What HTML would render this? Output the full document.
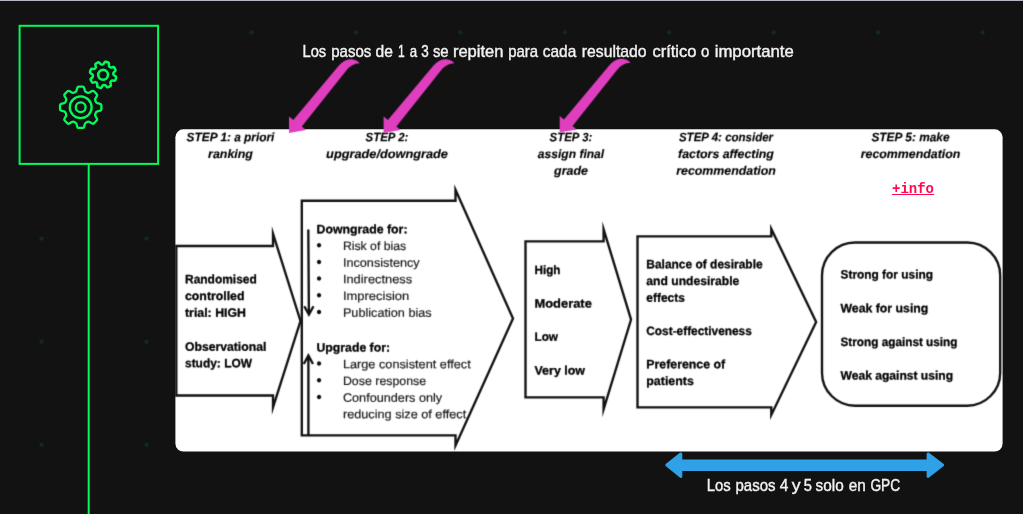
<!DOCTYPE html>
<html lang="es">
<head>
<meta charset="utf-8">
<title>GRADE</title>
<style>
html,body{margin:0;padding:0;background:#121212;}
body{width:1023px;height:514px;overflow:hidden;position:relative;font-family:"Liberation Sans",sans-serif;}
.topline{position:absolute;left:0;top:0;width:1023px;height:1px;background:#b9b5c6;}
.dots{position:absolute;left:0;top:0;}
.dots circle{fill:#12301a;opacity:.85}
.iconbox{fill:#121212;stroke:#00fb5a;stroke-width:2;}
.timeline{fill:#00fb5a;}
.panel{fill:#fff;}
svg.layer{position:absolute;left:0;top:0;overflow:visible;will-change:transform;}
.gear{fill:none;stroke:#00fb5a;stroke-width:2.3;stroke-linejoin:round;stroke-linecap:round;}
.shapes{fill:none;stroke:#121212;stroke-width:2.35;stroke-linejoin:miter;stroke-miterlimit:10;}
text{font-family:"Liberation Sans",sans-serif;}
.bi{font-weight:bold;font-style:italic;font-size:12.2px;fill:#000;stroke:#000;stroke-width:0.15px;}
.b{font-weight:bold;font-size:12.1px;fill:#000;stroke:#000;stroke-width:0.28px;}
.r{font-size:12.1px;fill:#1c1c1c;stroke:#1c1c1c;stroke-width:0.2px;}
.bul{font-size:16px;fill:#111;}
.cap{font-size:16.2px;fill:#f2f2f2;stroke:#f2f2f2;stroke-width:0.4px;}
.info{position:absolute;left:892px;top:181px;width:42px;height:17px;line-height:17px;font-family:"Liberation Mono",monospace;font-weight:bold;font-size:14px;color:#ff0a50;text-decoration:underline;text-underline-offset:0.6px;text-decoration-thickness:1px;white-space:nowrap;}
a{cursor:pointer;}
</style>
</head>
<body>
<div class="topline"></div>
<svg class="dots" width="1023" height="514" viewBox="0 0 1023 514"><circle cx="41.5" cy="238.6" r="2.2"/><circle cx="41.5" cy="341.7" r="2.2"/><circle cx="41.5" cy="444.8" r="2.2"/><circle cx="146.5" cy="238.6" r="2.2"/><circle cx="146.5" cy="341.7" r="2.2"/><circle cx="146.5" cy="444.8" r="2.2"/><circle cx="251.5" cy="32.4" r="2.2"/><circle cx="355.9" cy="32.4" r="2.2"/><circle cx="460.4" cy="32.4" r="2.2"/><circle cx="564.8" cy="32.4" r="2.2"/><circle cx="669.2" cy="32.4" r="2.2"/><circle cx="773.7" cy="32.4" r="2.2"/><circle cx="878.1" cy="32.4" r="2.2"/><circle cx="982.5" cy="32.4" r="2.2"/></svg>
<svg class="layer" width="1023" height="514" viewBox="0 0 1023 514">
<rect class="timeline" x="87.7" y="164" width="2" height="352"/>
<rect class="iconbox" x="19.6" y="25.8" width="138.5" height="138.1"/>
<rect class="panel" x="175.4" y="129.3" width="827.2" height="322.3" rx="8" ry="8"/>
<defs><filter id="soft" x="170" y="125" width="840" height="330" filterUnits="userSpaceOnUse" color-interpolation-filters="sRGB"><feConvolveMatrix order="3" kernelMatrix="0 1 0 1 4 1 0 1 0" divisor="8" edgeMode="duplicate" preserveAlpha="false"/></filter><filter id="soft2" x="280" y="52" width="360" height="90" filterUnits="userSpaceOnUse" color-interpolation-filters="sRGB"><feConvolveMatrix order="3" kernelMatrix="0 1 0 1 4 1 0 1 0" divisor="8" edgeMode="duplicate" preserveAlpha="false"/></filter></defs>
<g class="gear">
<path d="M95.85 101.82 L95.85 101.82 Q96.27 102.83 97.33 103.12 L100.31 103.92 Q101.37 104.21 101.37 105.31 L101.37 109.29 Q101.37 110.39 100.31 110.68 L97.33 111.48 Q96.27 111.77 95.85 112.78 L95.29 114.14 Q94.87 115.15 95.42 116.11 L96.95 118.78 Q97.50 119.73 96.72 120.51 L93.91 123.32 Q93.13 124.10 92.18 123.55 L89.51 122.02 Q88.55 121.47 87.54 121.89 L86.18 122.45 Q85.17 122.87 84.88 123.93 L84.08 126.91 Q83.79 127.97 82.69 127.97 L78.71 127.97 Q77.61 127.97 77.32 126.91 L76.52 123.93 Q76.23 122.87 75.22 122.45 L73.86 121.89 Q72.85 121.47 71.89 122.02 L69.22 123.55 Q68.27 124.10 67.49 123.32 L64.68 120.51 Q63.90 119.73 64.45 118.78 L65.98 116.11 Q66.53 115.15 66.11 114.14 L65.55 112.78 Q65.13 111.77 64.07 111.48 L61.09 110.68 Q60.03 110.39 60.03 109.29 L60.03 105.31 Q60.03 104.21 61.09 103.92 L64.07 103.12 Q65.13 102.83 65.55 101.82 L66.11 100.46 Q66.53 99.45 65.98 98.49 L64.45 95.82 Q63.90 94.87 64.68 94.09 L67.49 91.28 Q68.27 90.50 69.22 91.05 L71.89 92.58 Q72.85 93.13 73.86 92.71 L75.22 92.15 Q76.23 91.73 76.52 90.67 L77.32 87.69 Q77.61 86.63 78.71 86.63 L82.69 86.63 Q83.79 86.63 84.08 87.69 L84.88 90.67 Q85.17 91.73 86.18 92.15 L87.54 92.71 Q88.55 93.13 89.51 92.58 L92.18 91.05 Q93.13 90.50 93.91 91.28 L96.72 94.09 Q97.50 94.87 96.95 95.82 L95.42 98.49 Q94.87 99.45 95.29 100.46 Z"/>
<circle cx="80.7" cy="107.3" r="10.9"/>
<circle cx="80.7" cy="107.3" r="4.9"/>
<path d="M113.32 74.17 L113.32 74.17 Q113.40 75.07 114.18 75.51 L115.67 76.35 Q116.45 76.80 116.18 77.65 L115.45 79.97 Q115.18 80.82 114.29 80.74 L112.58 80.57 Q111.69 80.48 111.11 81.17 L110.77 81.58 Q110.19 82.27 110.43 83.14 L110.89 84.78 Q111.13 85.65 110.33 86.07 L108.18 87.19 Q107.38 87.60 106.81 86.91 L105.73 85.59 Q105.15 84.89 104.26 84.97 L103.73 85.02 Q102.83 85.10 102.39 85.88 L101.55 87.37 Q101.10 88.15 100.25 87.88 L97.93 87.15 Q97.08 86.88 97.16 85.99 L97.33 84.28 Q97.42 83.39 96.73 82.81 L96.32 82.47 Q95.63 81.89 94.76 82.13 L93.12 82.59 Q92.25 82.83 91.83 82.03 L90.71 79.88 Q90.30 79.08 90.99 78.51 L92.31 77.43 Q93.01 76.85 92.93 75.96 L92.88 75.43 Q92.80 74.53 92.02 74.09 L90.53 73.25 Q89.75 72.80 90.02 71.95 L90.75 69.63 Q91.02 68.78 91.91 68.86 L93.62 69.03 Q94.51 69.12 95.09 68.43 L95.43 68.02 Q96.01 67.33 95.77 66.46 L95.31 64.82 Q95.07 63.95 95.87 63.53 L98.02 62.41 Q98.82 62.00 99.39 62.69 L100.47 64.01 Q101.05 64.71 101.94 64.63 L102.47 64.58 Q103.37 64.50 103.81 63.72 L104.65 62.23 Q105.10 61.45 105.95 61.72 L108.27 62.45 Q109.12 62.72 109.04 63.61 L108.87 65.32 Q108.78 66.21 109.47 66.79 L109.88 67.13 Q110.57 67.71 111.44 67.47 L113.08 67.01 Q113.95 66.77 114.37 67.57 L115.49 69.72 Q115.90 70.52 115.21 71.09 L113.89 72.17 Q113.19 72.75 113.27 73.64 Z" stroke-width="2.5"/>
<circle cx="103.1" cy="74.8" r="4.9" stroke-width="2.6"/>
</g>
<g class="diagram" filter="url(#soft)">
<g class="shapes">
<path d="M176.3 246.0 H273 V233.69 L300.49 321 L273 407.38 V395.5 H176.3 Z"/>
<path d="M301.8 200.7 H455.5 V189.78 L513.00 318.5 L455.5 445.59 V435.3 H301.8 Z"/>
<path d="M525.5 241.3 H603.6 V229.26 L631.06 319.6 L603.6 409.39 V397.4 H525.5 Z"/>
<path d="M637.5 236.3 H771.3 V228.91 L816.15 322 L771.3 414.90 V407.4 H637.5 Z"/>
<rect x="822" y="242.5" width="178.2" height="163.2" rx="33" ry="33"/>
<path d="M308.3 229.5 L308.9 314 M304.3 306.3 L308.9 314.6 L313.5 306.3"/>
<path d="M308.4 435 L308.4 356 M303.8 364 L308.4 355.5 L313 364"/>
</g>
<text class="bi" transform="translate(230.50 141.30) matrix(1 0.0006 0 1 0 0)" textLength="87.8" lengthAdjust="spacingAndGlyphs" text-anchor="middle">STEP 1: a priori</text>
<text class="bi" transform="translate(230.50 158.00) matrix(1 0.0006 0 1 0 0)" textLength="44.8" lengthAdjust="spacingAndGlyphs" text-anchor="middle">ranking</text>
<text class="bi" transform="translate(387.00 141.30) matrix(1 0.0006 0 1 0 0)" textLength="42.8" lengthAdjust="spacingAndGlyphs" text-anchor="middle">STEP 2:</text>
<text class="bi" transform="translate(387.00 158.00) matrix(1 0.0006 0 1 0 0)" textLength="121.8" lengthAdjust="spacingAndGlyphs" text-anchor="middle">upgrade/downgrade</text>
<text class="bi" transform="translate(571.00 141.30) matrix(1 0.0006 0 1 0 0)" textLength="42.8" lengthAdjust="spacingAndGlyphs" text-anchor="middle">STEP 3:</text>
<text class="bi" transform="translate(571.00 158.00) matrix(1 0.0006 0 1 0 0)" textLength="66.3" lengthAdjust="spacingAndGlyphs" text-anchor="middle">assign final</text>
<text class="bi" transform="translate(571.00 174.70) matrix(1 0.0006 0 1 0 0)" textLength="33.8" lengthAdjust="spacingAndGlyphs" text-anchor="middle">grade</text>
<text class="bi" transform="translate(726.00 141.30) matrix(1 0.0006 0 1 0 0)" textLength="94.1" lengthAdjust="spacingAndGlyphs" text-anchor="middle">STEP 4: consider</text>
<text class="bi" transform="translate(726.00 158.00) matrix(1 0.0006 0 1 0 0)" textLength="95.8" lengthAdjust="spacingAndGlyphs" text-anchor="middle">factors affecting</text>
<text class="bi" transform="translate(726.00 174.70) matrix(1 0.0006 0 1 0 0)" textLength="99.6" lengthAdjust="spacingAndGlyphs" text-anchor="middle">recommendation</text>
<text class="bi" transform="translate(910.50 141.30) matrix(1 0.0006 0 1 0 0)" textLength="78.1" lengthAdjust="spacingAndGlyphs" text-anchor="middle">STEP 5: make</text>
<text class="bi" transform="translate(910.50 158.00) matrix(1 0.0006 0 1 0 0)" textLength="99.6" lengthAdjust="spacingAndGlyphs" text-anchor="middle">recommendation</text>
<text class="b" transform="translate(185.00 283.30) matrix(1 0.0006 0 1 0 0)" textLength="71.8" lengthAdjust="spacingAndGlyphs">Randomised</text>
<text class="b" transform="translate(185.00 300.00) matrix(1 0.0006 0 1 0 0)" textLength="59.5" lengthAdjust="spacingAndGlyphs">controlled</text>
<text class="b" transform="translate(185.00 316.70) matrix(1 0.0006 0 1 0 0)" textLength="61" lengthAdjust="spacingAndGlyphs">trial: HIGH</text>
<text class="b" transform="translate(185.00 350.80) matrix(1 0.0006 0 1 0 0)" textLength="81.3" lengthAdjust="spacingAndGlyphs">Observational</text>
<text class="b" transform="translate(185.00 367.30) matrix(1 0.0006 0 1 0 0)" textLength="67" lengthAdjust="spacingAndGlyphs">study: LOW</text>
<text class="b" transform="translate(316.50 233.30) matrix(1 0.0006 0 1 0 0)" textLength="91" lengthAdjust="spacingAndGlyphs">Downgrade for:</text>
<text class="b" transform="translate(316.50 351.50) matrix(1 0.0006 0 1 0 0)" textLength="73.5" lengthAdjust="spacingAndGlyphs">Upgrade for:</text>
<text class="b" transform="translate(534.50 274.00) matrix(1 0.0006 0 1 0 0)" textLength="26" lengthAdjust="spacingAndGlyphs">High</text>
<text class="b" transform="translate(534.50 307.50) matrix(1 0.0006 0 1 0 0)" textLength="57.3" lengthAdjust="spacingAndGlyphs">Moderate</text>
<text class="b" transform="translate(534.50 340.80) matrix(1 0.0006 0 1 0 0)" textLength="23.5" lengthAdjust="spacingAndGlyphs">Low</text>
<text class="b" transform="translate(534.50 374.50) matrix(1 0.0006 0 1 0 0)" textLength="50.5" lengthAdjust="spacingAndGlyphs">Very low</text>
<text class="b" transform="translate(646.30 268.30) matrix(1 0.0006 0 1 0 0)" textLength="116.3" lengthAdjust="spacingAndGlyphs">Balance of desirable</text>
<text class="b" transform="translate(646.30 285.00) matrix(1 0.0006 0 1 0 0)" textLength="93" lengthAdjust="spacingAndGlyphs">and undesirable</text>
<text class="b" transform="translate(646.30 301.70) matrix(1 0.0006 0 1 0 0)" textLength="38.5" lengthAdjust="spacingAndGlyphs">effects</text>
<text class="b" transform="translate(646.30 335.00) matrix(1 0.0006 0 1 0 0)" textLength="105.5" lengthAdjust="spacingAndGlyphs">Cost-effectiveness</text>
<text class="b" transform="translate(646.30 368.30) matrix(1 0.0006 0 1 0 0)" textLength="78.8" lengthAdjust="spacingAndGlyphs">Preference of</text>
<text class="b" transform="translate(646.30 385.00) matrix(1 0.0006 0 1 0 0)" textLength="47.5" lengthAdjust="spacingAndGlyphs">patients</text>
<text class="b" transform="translate(840.50 278.50) matrix(1 0.0006 0 1 0 0)" textLength="92.5" lengthAdjust="spacingAndGlyphs">Strong for using</text>
<text class="b" transform="translate(840.50 312.30) matrix(1 0.0006 0 1 0 0)" textLength="87.8" lengthAdjust="spacingAndGlyphs">Weak for using</text>
<text class="b" transform="translate(840.50 346.00) matrix(1 0.0006 0 1 0 0)" textLength="117" lengthAdjust="spacingAndGlyphs">Strong against using</text>
<text class="b" transform="translate(840.50 379.50) matrix(1 0.0006 0 1 0 0)" textLength="112.6" lengthAdjust="spacingAndGlyphs">Weak against using</text>
<text class="r" transform="translate(342.90 250.00) matrix(1 0.0006 0 1 0 0)" textLength="63.3" lengthAdjust="spacingAndGlyphs">Risk of bias</text>
<text class="r" transform="translate(342.90 266.70) matrix(1 0.0006 0 1 0 0)" textLength="76.8" lengthAdjust="spacingAndGlyphs">Inconsistency</text>
<text class="r" transform="translate(342.90 283.30) matrix(1 0.0006 0 1 0 0)" textLength="69.3" lengthAdjust="spacingAndGlyphs">Indirectness</text>
<text class="r" transform="translate(342.90 300.00) matrix(1 0.0006 0 1 0 0)" textLength="66.3" lengthAdjust="spacingAndGlyphs">Imprecision</text>
<text class="r" transform="translate(342.90 316.70) matrix(1 0.0006 0 1 0 0)" textLength="88.8" lengthAdjust="spacingAndGlyphs">Publication bias</text>
<text class="r" transform="translate(342.90 368.30) matrix(1 0.0006 0 1 0 0)" textLength="127.8" lengthAdjust="spacingAndGlyphs">Large consistent effect</text>
<text class="r" transform="translate(342.90 385.00) matrix(1 0.0006 0 1 0 0)" textLength="83.3" lengthAdjust="spacingAndGlyphs">Dose response</text>
<text class="r" transform="translate(342.90 401.70) matrix(1 0.0006 0 1 0 0)" textLength="99.3" lengthAdjust="spacingAndGlyphs">Confounders only</text>
<text class="r" transform="translate(342.90 418.30) matrix(1 0.0006 0 1 0 0)" textLength="123.3" lengthAdjust="spacingAndGlyphs">reducing size of effect</text>
<text class="bul" transform="translate(319.00 250.50) matrix(1 0.0006 0 1 0 0)" text-anchor="middle">•</text>
<text class="bul" transform="translate(319.00 267.20) matrix(1 0.0006 0 1 0 0)" text-anchor="middle">•</text>
<text class="bul" transform="translate(319.00 283.80) matrix(1 0.0006 0 1 0 0)" text-anchor="middle">•</text>
<text class="bul" transform="translate(319.00 300.50) matrix(1 0.0006 0 1 0 0)" text-anchor="middle">•</text>
<text class="bul" transform="translate(319.00 317.20) matrix(1 0.0006 0 1 0 0)" text-anchor="middle">•</text>
<text class="bul" transform="translate(319.00 368.80) matrix(1 0.0006 0 1 0 0)" text-anchor="middle">•</text>
<text class="bul" transform="translate(319.00 385.50) matrix(1 0.0006 0 1 0 0)" text-anchor="middle">•</text>
<text class="bul" transform="translate(319.00 402.20) matrix(1 0.0006 0 1 0 0)" text-anchor="middle">•</text>
</g>
<g fill="#df3fbe" filter="url(#soft2)">
<path transform="translate(0 0)" d="M289 133 L289 116.5 L293.3 120 L338.5 66 Q345 58.5 351.5 59.3 Q357 60 359.8 63.3 Q351 63.5 345.5 71.5 L301.8 126.5 L306 130 Z"/>
<path transform="translate(94.6 0)" d="M289 133 L289 116.5 L293.3 120 L338.5 66 Q345 58.5 351.5 59.3 Q357 60 359.8 63.3 Q351 63.5 345.5 71.5 L301.8 126.5 L306 130 Z"/>
<path transform="translate(270.7 -0.5)" d="M289 133 L289 116.5 L293.3 120 L338.5 66 Q345 58.5 351.5 59.3 Q357 60 359.8 63.3 Q351 63.5 345.5 71.5 L301.8 126.5 L306 130 Z"/>
</g>
<path fill="#2fa1e6" stroke="#2fa1e6" stroke-width="3" stroke-linejoin="round" d="M666.9 465 L680.8 454 V461.1 H928.1 V454 L942.5 465 L928.1 476.4 V469.4 H680.8 V476.4 Z"/>
<text class="cap" transform="translate(302.5 56.5)"><tspan x="0.0" textLength="23.7" lengthAdjust="spacingAndGlyphs">Los</tspan> <tspan x="28.7" textLength="40.2" lengthAdjust="spacingAndGlyphs">pasos</tspan> <tspan x="73.1" textLength="17.4" lengthAdjust="spacingAndGlyphs">de</tspan> <tspan x="95.5" textLength="6.7" lengthAdjust="spacingAndGlyphs">1</tspan> <tspan x="107.2" textLength="7.4" lengthAdjust="spacingAndGlyphs">a</tspan> <tspan x="118.8" textLength="7.5" lengthAdjust="spacingAndGlyphs">3</tspan> <tspan x="130.4" textLength="15.8" lengthAdjust="spacingAndGlyphs">se</tspan> <tspan x="150.4" textLength="50.6" lengthAdjust="spacingAndGlyphs">repiten</tspan> <tspan x="205.7" textLength="29.9" lengthAdjust="spacingAndGlyphs">para</tspan> <tspan x="240.3" textLength="33.5" lengthAdjust="spacingAndGlyphs">cada</tspan> <tspan x="279.3" textLength="64.8" lengthAdjust="spacingAndGlyphs">resultado</tspan> <tspan x="349.9" textLength="44.1" lengthAdjust="spacingAndGlyphs">crítico</tspan> <tspan x="398.6" textLength="8.3" lengthAdjust="spacingAndGlyphs">o</tspan> <tspan x="412.2" textLength="79.0" lengthAdjust="spacingAndGlyphs">importante</tspan></text>
<text class="cap" transform="translate(706.8 490.5)"><tspan x="0.0" textLength="24.0" lengthAdjust="spacingAndGlyphs">Los</tspan> <tspan x="28.7" textLength="40.0" lengthAdjust="spacingAndGlyphs">pasos</tspan> <tspan x="72.9" textLength="8.6" lengthAdjust="spacingAndGlyphs">4</tspan> <tspan x="85.0" textLength="8.8" lengthAdjust="spacingAndGlyphs">y</tspan> <tspan x="96.9" textLength="8.2" lengthAdjust="spacingAndGlyphs">5</tspan> <tspan x="108.8" textLength="28.1" lengthAdjust="spacingAndGlyphs">solo</tspan> <tspan x="142.0" textLength="17.1" lengthAdjust="spacingAndGlyphs">en</tspan> <tspan x="163.6" textLength="29.8" lengthAdjust="spacingAndGlyphs">GPC</tspan></text>
</svg>
<a class="info">+info</a>
</body>
</html>
